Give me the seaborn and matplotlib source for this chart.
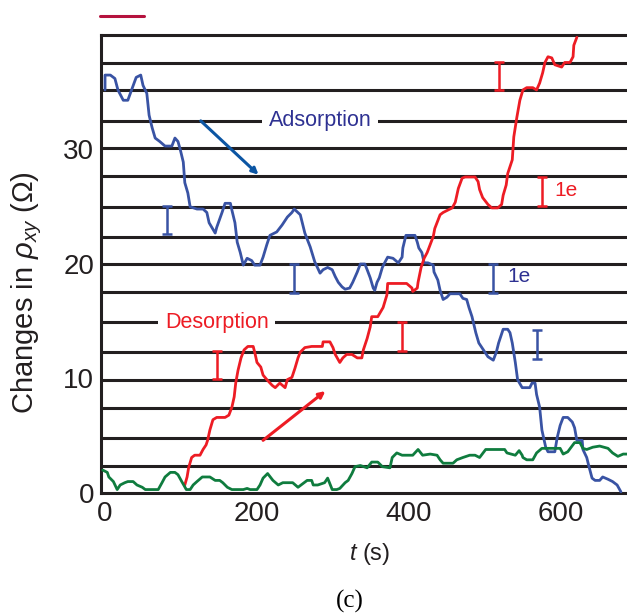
import numpy as np
import pandas as pd
import matplotlib
matplotlib.use("Agg")
import matplotlib.pyplot as plt
import seaborn as sns
from matplotlib.lines import Line2D

# Adsorption trace (blue)
blue_t = [0, 0, 7, 13, 17, 24, 30, 36, 41, 47, 50, 55, 58, 62, 66, 72, 79, 88, 92, 96,
          99, 103, 105, 109, 112, 121, 129, 134, 137, 145, 147, 154, 158, 165, 167, 171,
          174, 178, 182, 187, 193, 197, 204, 208, 213, 217, 226, 233, 240, 246, 249, 257,
          263, 270, 276, 283, 287, 293, 299, 303, 307, 312, 316, 322, 326, 332, 336, 342,
          345, 349, 353, 355, 358, 361, 365, 368, 372, 379, 386, 391, 392, 396, 404, 408,
          411, 413, 417, 420, 425, 432, 433, 438, 441, 445, 450, 454, 467, 471, 476, 479,
          483, 488, 492, 500, 504, 511, 515, 518, 524, 530, 533, 536, 540, 543, 549, 559,
          562, 566, 568, 572, 575, 580, 583, 592, 595, 599, 603, 609, 615, 618, 621, 628,
          629, 634, 637, 641, 645, 651, 655, 662, 668, 674, 679]
blue_y = [35.2, 36.5, 36.5, 36.2, 35.2, 34.3, 34.3, 35.4, 36.3, 36.5, 35.6, 34.9, 33.0,
          31.9, 31.0, 30.7, 30.3, 30.3, 31.0, 30.7, 30.0, 28.9, 27.1, 26.2, 25.0, 24.8,
          24.8, 24.5, 23.6, 22.7, 23.2, 24.5, 25.3, 25.3, 24.7, 23.6, 21.9, 21.0, 19.9,
          20.5, 20.3, 19.9, 19.9, 20.6, 21.7, 22.5, 22.8, 23.4, 24.1, 24.5, 24.8, 24.3,
          22.7, 21.5, 20.2, 19.2, 19.5, 19.7, 19.5, 18.9, 18.4, 18.0, 17.8, 17.9, 18.4,
          19.3, 20.0, 20.0, 19.5, 18.8, 17.9, 17.7, 18.4, 18.8, 19.7, 20.1, 20.6, 20.5,
          20.1, 20.6, 21.4, 22.5, 22.5, 22.5, 21.9, 21.4, 21.0, 20.1, 20.1, 19.9, 19.3,
          18.6, 17.7, 16.9, 17.1, 17.4, 17.4, 17.0, 16.9, 16.2, 15.4, 14.0, 13.1, 12.3,
          11.9, 11.6, 12.3, 13.1, 14.3, 14.3, 14.0, 13.1, 11.4, 9.9, 9.2, 9.2, 9.6,
          9.6, 8.6, 7.5, 5.5, 4.0, 3.6, 3.6, 4.8, 5.9, 6.6, 6.6, 6.2, 5.7, 4.6, 4.6, 3.8,
          3.1, 2.3, 1.3, 1.1, 1.1, 1.4, 1.2, 1.0, 0.7, 0.1]

# Desorption trace (red)
red_t = [105, 108, 110, 114, 118, 125, 129, 133, 135, 138, 142, 147, 158, 163, 167, 170,
         172, 175, 179, 183, 188, 195, 197, 200, 205, 208, 213, 220, 224, 230, 237, 240,
         246, 250, 254, 257, 263, 272, 286, 287, 296, 300, 303, 309, 313, 318, 325, 332,
         338, 340, 345, 349, 351, 359, 366, 371, 372, 384, 397, 404, 405, 411, 412, 416,
         420, 424, 428, 432, 434, 441, 445, 457, 461, 465, 470, 474, 487, 491, 493, 497,
         504, 509, 517, 522, 524, 528, 530, 536, 538, 542, 546, 550, 555, 563, 568, 572,
         576, 579, 583, 588, 592, 601, 605, 612, 616, 617, 621]
red_y = [0.7, 1.4, 2.2, 3.1, 3.3, 3.3, 3.8, 4.2, 4.6, 5.5, 6.4, 6.6, 6.6, 6.8, 7.5, 8.4,
         9.6, 10.7, 11.8, 12.5, 12.8, 12.8, 12.3, 11.4, 11.0, 10.3, 9.9, 9.4, 9.2, 9.6,
         9.2, 9.9, 10.1, 10.9, 11.8, 12.3, 12.7, 12.8, 12.8, 13.2, 13.2, 12.7, 12.1, 11.4,
         11.8, 12.1, 12.1, 11.8, 11.8, 12.5, 13.5, 14.5, 15.4, 15.4, 16.2, 17.3, 18.3,
         18.3, 18.3, 17.9, 17.6, 17.9, 18.4, 19.7, 20.5, 21.0, 21.7, 22.4, 23.1, 24.3,
         24.5, 24.9, 25.4, 26.6, 27.5, 27.6, 27.6, 27.2, 26.5, 25.8, 25.2, 24.9, 24.9,
         25.2, 26.0, 26.9, 27.9, 29.1, 31.1, 32.8, 34.3, 35.2, 35.4, 35.4, 35.2, 35.8,
         36.7, 37.6, 38.1, 38.0, 37.4, 37.2, 37.6, 37.6, 38.1, 39.1, 39.8]

# Reference trace (green)
green_t = [-3, 3, 5, 11, 16, 20, 26, 30, 37, 42, 49, 53, 70, 75, 79, 86, 92, 96, 101, 107,
           112, 116, 121, 128, 138, 145, 151, 155, 161, 167, 182, 187, 191, 200, 204, 208,
           214, 221, 228, 234, 247, 254, 262, 266, 272, 274, 280, 289, 293, 299, 305, 309,
           316, 320, 325, 329, 336, 345, 351, 359, 365, 375, 378, 384, 391, 405, 412, 418,
           428, 437, 441, 445, 458, 463, 471, 480, 487, 493, 501, 526, 529, 540, 545, 549,
           550, 555, 563, 568, 575, 599, 603, 609, 618, 625, 629, 634, 642, 651, 662, 668,
           675, 682, 690]
green_y = [2.0, 1.8, 1.4, 1.0, 0.3, 0.7, 0.9, 1.0, 1.0, 0.7, 0.5, 0.3, 0.3, 0.9, 1.4,
           1.8, 1.8, 1.6, 1.0, 0.3, 0.3, 0.7, 1.0, 1.4, 1.4, 1.1, 1.1, 0.9, 0.5, 0.3, 0.3,
           0.4, 0.3, 0.3, 0.7, 1.3, 1.7, 1.1, 0.7, 0.9, 0.9, 0.5, 0.9, 1.1, 1.1, 0.7, 0.7,
           0.9, 1.3, 0.3, 0.3, 0.4, 0.9, 1.1, 1.7, 2.3, 2.4, 2.2, 2.7, 2.7, 2.3, 2.2, 3.1,
           3.5, 3.3, 3.3, 3.8, 3.3, 3.4, 3.3, 2.9, 2.6, 2.6, 2.9, 3.1, 3.3, 3.3, 3.1, 3.8,
           3.8, 3.5, 3.3, 3.7, 3.3, 3.1, 2.9, 2.9, 3.5, 3.9, 3.9, 3.4, 3.6, 4.4, 4.4, 3.9,
           3.8, 4.0, 4.1, 3.9, 3.5, 3.2, 3.4, 3.4]

grid_levels = [2.4, 4.8, 7.4, 9.9, 12.3, 14.9, 17.55, 20.0, 22.4, 25.0, 27.7, 30.1,
               32.5, 35.2, 37.55]
x_ticks = [0, 200, 400, 600]
y_ticks = [0, 10, 20, 30]

# 1e step markers: time, lower, upper
blue_bar_t = [82, 249, 510, 568]
blue_bar_lo = [22.6, 17.5, 17.5, 11.7]
blue_bar_hi = [25.1, 20.0, 20.0, 14.2]
red_bar_t = [147, 391, 518, 575]
red_bar_lo = [10.0, 12.4, 35.2, 25.1]
red_bar_hi = [12.4, 14.9, 37.6, 27.6]

BLUE = "#3953a4"
RED = "#ed1c24"
GREEN = "#0f7c3e"
INK = "#231f20"

sns.set_theme(style="white")
plt.rcParams["font.family"] = ["Liberation Sans", "DejaVu Sans"]
plt.rcParams["mathtext.fontset"] = "custom"
plt.rcParams["mathtext.rm"] = "Liberation Sans"
plt.rcParams["mathtext.it"] = "Liberation Sans:italic"

df = pd.concat([
    pd.DataFrame({"t": blue_t, "y": blue_y, "s": "ads"}),
    pd.DataFrame({"t": red_t, "y": red_y, "s": "des"}),
    pd.DataFrame({"t": green_t, "y": green_y, "s": "ref"}),
])

fig = plt.figure(figsize=(6.27, 6.15), dpi=100)
ax = fig.add_axes([101 / 627, 1 - 493 / 615, 1 - 101 / 627, 458 / 615])

for lvl in grid_levels:
    ax.axhline(lvl, color=INK, lw=2.2, zorder=1)

sns.lineplot(data=df, x="t", y="y", hue="s", palette={"ads": BLUE, "des": RED, "ref": GREEN},
             estimator=None, sort=False, legend=False, lw=2.0, ax=ax, zorder=3)

ax.errorbar(blue_bar_t, [(a + b) / 2 for a, b in zip(blue_bar_lo, blue_bar_hi)],
            yerr=[(b - a) / 2 for a, b in zip(blue_bar_lo, blue_bar_hi)],
            fmt="none", ecolor=BLUE, elinewidth=1.8, capsize=3.5, capthick=1.8, zorder=4)
ax.errorbar(red_bar_t, [(a + b) / 2 for a, b in zip(red_bar_lo, red_bar_hi)],
            yerr=[(b - a) / 2 for a, b in zip(red_bar_lo, red_bar_hi)],
            fmt="none", ecolor=RED, elinewidth=1.8, capsize=3.5, capthick=1.8, zorder=4)

ax.annotate("", xy=(202, 27.8), xytext=(126, 32.5),
            arrowprops=dict(arrowstyle="-|>,head_length=0.3,head_width=0.15",
                            color="#0b55a3", lw=2.2, shrinkA=0, shrinkB=0), zorder=5)
ax.annotate("", xy=(290, 8.9), xytext=(208, 4.6),
            arrowprops=dict(arrowstyle="-|>,head_length=0.3,head_width=0.15",
                            color=RED, lw=2.2, shrinkA=0, shrinkB=0), zorder=5)

ax.text(283, 32.5, "Adsorption", color="#2e3192", fontsize=15.5, ha="center", va="center",
        bbox=dict(facecolor="white", edgecolor="none", pad=5), zorder=2)
ax.text(147, 14.9, "Desorption", color=RED, fontsize=15.5, ha="center", va="center",
        bbox=dict(facecolor="white", edgecolor="none", pad=5), zorder=2)
ax.text(592, 26.4, "1e", color=RED, fontsize=15, ha="left", va="center")
ax.text(529, 18.9, "1e", color="#2e3192", fontsize=15, ha="left", va="center")

ax.set_xlim(-5.3, 687)
ax.set_ylim(0, 40)
ax.set_xticks(x_ticks)
ax.set_yticks(y_ticks)
ax.tick_params(axis="x", direction="in", length=7, width=1.6, color=INK, labelsize=20,
               pad=6, labelcolor=INK)
ax.tick_params(axis="y", length=0, labelsize=20, pad=5, labelcolor=INK)
for side in ["left", "bottom", "top"]:
    ax.spines[side].set_color(INK)
    ax.spines[side].set_linewidth(2.2)
ax.spines["right"].set_visible(False)

ax.set_xlabel("$t$ (s)", fontsize=17, color=INK)
ax.xaxis.set_label_coords(0.51, -0.105)
ax.set_ylabel(r"Changes in $\rho_{xy}$ ($\Omega$)", fontsize=21, color=INK)
ax.yaxis.set_label_coords(-0.108, 0.437)

fig.add_artist(Line2D([100 / 627, 144 / 627], [1 - 16 / 615] * 2, color="#b5123e", lw=2.2))
fig.text(350 / 627, 1 - 601 / 615, "(c)", family="Liberation Serif", fontsize=18,
         ha="center", va="center", color="black")

fig.savefig("out.png", dpi=100)
